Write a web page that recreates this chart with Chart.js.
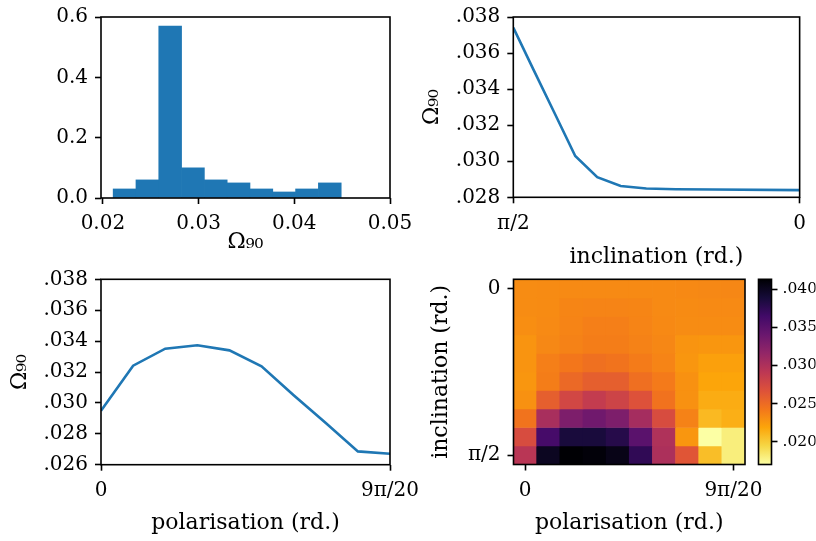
<!DOCTYPE html>
<html lang="en">
<head>
  <meta charset="UTF-8">
  <title>Omega90 vs inclination and polarisation</title>
  <script src="https://cdn.jsdelivr.net/npm/chart.js"></script>
  <style>
    body { margin: 0; background: #fff; }
    .page { position: relative; width: 816px; height: 541px; }
    .page canvas { position: absolute; left: 0; top: 0; }
  </style>
</head>
<body>
  <div class="page">
    <canvas id="hist" width="816" height="541"></canvas>
    <canvas id="incl" width="816" height="541"></canvas>
    <canvas id="pol" width="816" height="541"></canvas>
    <canvas id="heat" width="816" height="541"></canvas>
    <canvas id="cbar" width="816" height="541"></canvas>
  </div>

  <script>
    // histogram of Omega90 (top left)
    const histCenters = [0.022262, 0.024645, 0.027028, 0.029411, 0.031794, 0.034177, 0.036560, 0.038943, 0.041326, 0.043709];
    const histHeights = [0.03, 0.06, 0.57, 0.10, 0.06, 0.05, 0.03, 0.02, 0.03, 0.05];
    const histXTicks = [0.02, 0.03, 0.04, 0.05];
    const histXLabels = ['0.02', '0.03', '0.04', '0.05'];
    const histYTicks = [0, 0.2, 0.4, 0.6];
    const histYLabels = ['0.0', '0.2', '0.4', '0.6'];

    // Omega90 against inclination (top right)
    const inclination = [1.5708, 1.4595, 1.3467, 1.2310, 1.1102, 0.9818, 0.8411, 0.6797, 0.4759, 0];
    const omegaByIncl = [0.03741, 0.03507, 0.03272, 0.03029, 0.02912, 0.02863, 0.02849, 0.02845, 0.02843, 0.02840];
    const inclTicks = [Math.PI / 2, 0];
    const inclLabels = ['π/2', '0'];
    const omegaTicksA = [0.028, 0.030, 0.032, 0.034, 0.036, 0.038];

    // Omega90 against polarisation (bottom left)
    const polarisation = [0, 0.1571, 0.3142, 0.4712, 0.6283, 0.7854, 0.9425, 1.0996, 1.2566, 1.4137];
    const omegaByPol = [0.02950, 0.03241, 0.03351, 0.03373, 0.03340, 0.03237, 0.03050, 0.02870, 0.02686, 0.02671];
    const polTicks = [0, 9 * Math.PI / 20];
    const polLabels = ['0', '9π/20'];
    const omegaTicksB = [0.026, 0.028, 0.030, 0.032, 0.034, 0.036, 0.038];

    // map: rows are inclination 0 .. pi/2, columns polarisation 0 .. 9pi/20
    const heat = [
      [0.02315, 0.02320, 0.02325, 0.02325, 0.02325, 0.02325, 0.02327, 0.02332, 0.02337, 0.02342],
      [0.02315, 0.02320, 0.02349, 0.02356, 0.02356, 0.02349, 0.02325, 0.02320, 0.02325, 0.02325],
      [0.02305, 0.02325, 0.02356, 0.02380, 0.02380, 0.02356, 0.02332, 0.02315, 0.02315, 0.02315],
      [0.02273, 0.02337, 0.02368, 0.02392, 0.02392, 0.02368, 0.02342, 0.02273, 0.02264, 0.02264],
      [0.02273, 0.02380, 0.02429, 0.02468, 0.02448, 0.02405, 0.02356, 0.02264, 0.02213, 0.02213],
      [0.02264, 0.02392, 0.02514, 0.02580, 0.02580, 0.02478, 0.02410, 0.02290, 0.02186, 0.02186],
      [0.02290, 0.02580, 0.02764, 0.02864, 0.02794, 0.02672, 0.02453, 0.02290, 0.02150, 0.02150],
      [0.02448, 0.03034, 0.03289, 0.03365, 0.03289, 0.03051, 0.02716, 0.02368, 0.02089, 0.02137],
      [0.02716, 0.03620, 0.03870, 0.03870, 0.03800, 0.03498, 0.02993, 0.02264, 0.01700, 0.01804],
      [0.02932, 0.03996, 0.04130, 0.04106, 0.04045, 0.03744, 0.03010, 0.02643, 0.02065, 0.01804]
    ];
    const heatXTicks = [0, 9];
    const heatYTicks = [0.5, 9.5];
    const heatYLabels = ['0', 'π/2'];
    const CB_MIN = 0.0170, CB_MAX = 0.0413;
    const cbTicks = [0.020, 0.025, 0.030, 0.035, 0.040];

    const BLUE = '#1f77b4';
    const W = 816, H = 541;
    const TICK = { family: 'DejaVu Serif', size: 20, lineHeight: 1 };
    const CB_TICK = { family: 'DejaVu Serif', size: 15.5, lineHeight: 1 };
    const TITLE = { family: 'DejaVu Serif', size: 22, lineHeight: 1.2 };
    const HALF_TITLE = TITLE.size * TITLE.lineHeight / 2;
    const marks = { drawOnChartArea: false, tickLength: 6, tickWidth: 1.6, tickColor: '#000' };

    // inferno, reversed by cellColor (high values dark)
    const INFERNO = [[0, 0, 4], [22, 11, 57], [66, 10, 104], [106, 23, 110], [147, 38, 103], [188, 55, 84],
                     [221, 81, 58], [243, 118, 27], [252, 165, 10], [246, 215, 70], [252, 255, 164]];
    function inferno(t) {
      t = Math.min(1, Math.max(0, t));
      const s = t * 10, i = Math.min(9, Math.floor(s)), f = s - i;
      const a = INFERNO[i], b = INFERNO[i + 1];
      return 'rgb(' + a.map((c, k) => Math.round(c + (b[k] - c) * f)).join(',') + ')';
    }
    const cellColor = v => inferno((CB_MAX - v) / (CB_MAX - CB_MIN));
    const dotLabel = v => '.' + String(Math.round(v * 1000)).padStart(3, '0');

    // box round the plot area, like matplotlib spines
    const frame = {
      id: 'frame',
      afterDraw(chart) {
        const { ctx, chartArea: a } = chart;
        ctx.save();
        ctx.strokeStyle = '#000';
        ctx.lineWidth = 1.6;
        ctx.strokeRect(a.left, a.top, a.right - a.left, a.bottom - a.top);
        ctx.restore();
      }
    };

    // puts the plot area at `area` and the axis titles at the given centres
    function layoutFor(area, yTitleX, xTitleY) {
      const left = yTitleX != null ? yTitleX - HALF_TITLE : 20;
      const bottom = xTitleY + HALF_TITLE;
      return {
        padding: { left: left, top: area.t, right: W - area.r, bottom: H - bottom },
        yWidth: area.l - left,
        xHeight: bottom - area.b
      };
    }

    function axis(horizontal, values, labels, size, title, extra) {
      return Object.assign({
        type: 'linear',
        offset: false,
        grid: Object.assign({ offset: false }, marks),
        border: { display: false },
        afterBuildTicks: s => { s.ticks = values.map(v => ({ value: v })); },
        afterFit: s => { if (horizontal) s.height = size; else s.width = size; },
        ticks: {
          font: TICK, color: '#000', maxRotation: 0, autoSkip: false,
          padding: horizontal ? 10 : 7,
          callback: (v, i) => labels[i]
        },
        title: { display: !!title, text: title, font: TITLE, color: '#000', padding: 0 }
      }, extra);
    }

    function baseOptions(lay, scales) {
      return {
        responsive: false,
        animation: false,
        events: [],
        layout: { padding: lay.padding },
        plugins: { legend: { display: false }, tooltip: { enabled: false } },
        scales: scales
      };
    }

    // top left: histogram
    const histArea = { l: 101, t: 13, r: 390, b: 198 };
    const histLay = layoutFor(histArea, null, 242);
    new Chart(document.getElementById('hist'), {
      type: 'bar',
      data: {
        datasets: [{
          data: histCenters.map((c, i) => ({ x: c, y: histHeights[i] })),
          backgroundColor: BLUE,
          borderWidth: 0,
          barPercentage: 1,
          categoryPercentage: 1
        }]
      },
      options: baseOptions(histLay, {
        x: axis(true, histXTicks, histXLabels, histLay.xHeight, 'Ω₉₀', { min: 0.0198, max: 0.05 }),
        y: axis(false, histYTicks, histYLabels, histLay.yWidth, '', { min: 0, max: 0.6 })
      }),
      plugins: [frame]
    });

    // top right: Omega90 vs inclination
    const inclArea = { l: 513.3, t: 12.3, r: 802.7, b: 197.3 };
    const inclLay = layoutFor(inclArea, 432, 257);
    new Chart(document.getElementById('incl'), {
      type: 'line',
      data: {
        datasets: [{
          data: inclination.map((x, i) => ({ x: x, y: omegaByIncl[i] })),
          borderColor: BLUE, borderWidth: 2.6, pointRadius: 0, tension: 0, fill: false
        }]
      },
      options: baseOptions(inclLay, {
        x: axis(true, inclTicks, inclLabels, inclLay.xHeight, 'inclination (rd.)', { min: 0, max: Math.PI / 2, reverse: true }),
        y: axis(false, omegaTicksA, omegaTicksA.map(dotLabel), inclLay.yWidth, 'Ω₉₀', { min: 0.028, max: 0.038 })
      }),
      plugins: [frame]
    });

    // bottom left: Omega90 vs polarisation
    const polArea = { l: 101, t: 279.3, r: 390, b: 464.7 };
    const polLay = layoutFor(polArea, 20, 523);
    new Chart(document.getElementById('pol'), {
      type: 'line',
      data: {
        datasets: [{
          data: polarisation.map((x, i) => ({ x: x, y: omegaByPol[i] })),
          borderColor: BLUE, borderWidth: 2.6, pointRadius: 0, tension: 0, fill: false
        }]
      },
      options: baseOptions(polLay, {
        x: axis(true, polTicks, polLabels, polLay.xHeight, 'polarisation (rd.)', { min: 0, max: 9 * Math.PI / 20 }),
        y: axis(false, omegaTicksB, omegaTicksB.map(dotLabel), polLay.yWidth, 'Ω₉₀', { min: 0.026, max: 0.038 })
      }),
      plugins: [frame]
    });

    // bottom right: map, one floating bar per cell
    const heatArea = { l: 513.5, t: 279.3, r: 745, b: 464.5 };
    const heatLay = layoutFor(heatArea, 441, 523);
    new Chart(document.getElementById('heat'), {
      type: 'bar',
      data: {
        datasets: heat.map((row, i) => ({
          data: row.map((v, j) => ({ x: j, y: [i, i + 1] })),
          backgroundColor: row.map(cellColor),
          borderWidth: 0,
          grouped: false,
          barPercentage: 1,
          categoryPercentage: 1
        }))
      },
      options: baseOptions(heatLay, {
        x: axis(true, heatXTicks, polLabels, heatLay.xHeight, 'polarisation (rd.)', { min: -0.5, max: 9.5 }),
        y: axis(false, heatYTicks, heatYLabels, heatLay.yWidth, 'inclination (rd.)', { min: 0, max: 10, reverse: true })
      }),
      plugins: [frame]
    });

    // colour bar
    const cbArea = { l: 758.5, t: 279.3, r: 771.5, b: 464.5 };
    new Chart(document.getElementById('cbar'), {
      type: 'bar',
      data: {
        labels: [''],
        datasets: [{
          data: [[CB_MIN, CB_MAX]],
          borderWidth: 0,
          barPercentage: 1,
          categoryPercentage: 1,
          backgroundColor(c) {
            const y = c.chart.scales.y;
            if (!c.chart.chartArea || !y) return 'rgba(0,0,0,0)';
            const g = c.chart.ctx.createLinearGradient(0, y.getPixelForValue(CB_MIN), 0, y.getPixelForValue(CB_MAX));
            for (let k = 0; k <= 10; k++) g.addColorStop(k / 10, inferno(1 - k / 10));
            return g;
          }
        }]
      },
      options: {
        responsive: false,
        animation: false,
        events: [],
        layout: { padding: { left: cbArea.l, top: cbArea.t, right: W - cbArea.r - 44, bottom: H - cbArea.b } },
        plugins: { legend: { display: false }, tooltip: { enabled: false } },
        scales: {
          x: { display: false },
          y: axis(false, cbTicks, cbTicks.map(dotLabel), 44, '', {
            position: 'right', min: CB_MIN, max: CB_MAX,
            ticks: { font: CB_TICK, color: '#000', padding: 5, autoSkip: false, callback: (v, i) => dotLabel(cbTicks[i]) }
          })
        }
      },
      plugins: [frame]
    });
  </script>
</body>
</html>
